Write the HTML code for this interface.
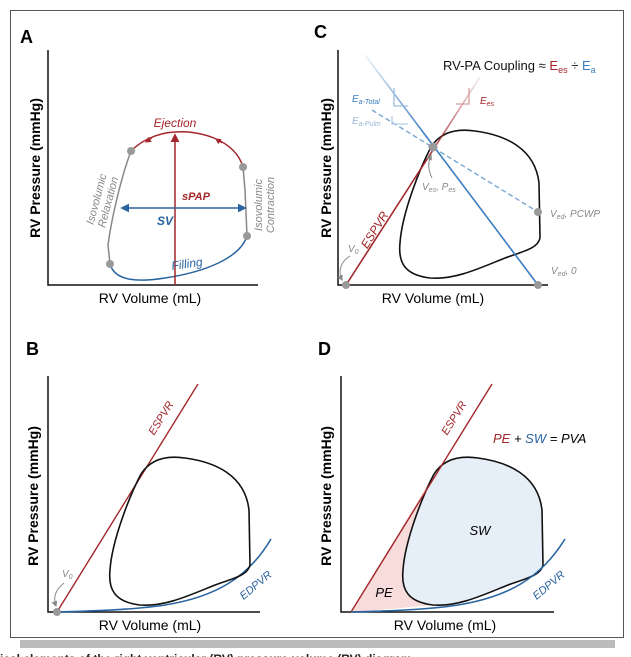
<!DOCTYPE html>
<html><head><meta charset="utf-8"><style>
body{margin:0;background:#fff;width:631px;height:657px;overflow:hidden;font-family:"Liberation Sans",sans-serif}
svg{position:absolute;left:0;top:0}
</style></head><body>
<svg width="631" height="657" viewBox="0 0 631 657">
<defs>
<marker id="arB" viewBox="0 0 10 10" refX="8" refY="5" markerWidth="6" markerHeight="6" orient="auto"><path d="M0,0L10,5L0,10z" fill="#2a64a0"/></marker>
<marker id="arR" viewBox="0 0 10 10" refX="8" refY="5" markerWidth="6" markerHeight="6" orient="auto"><path d="M0,0L10,5L0,10z" fill="#a3262a"/></marker>
<marker id="arG" viewBox="0 0 10 10" refX="8" refY="5" markerWidth="6" markerHeight="6" orient="auto"><path d="M0,0L10,5L0,10z" fill="#888"/></marker>
<linearGradient id="fadeR" x1="0" y1="1" x2="1" y2="0"><stop offset="0.6" stop-color="#a3262a"/><stop offset="1" stop-color="#a3262a" stop-opacity="0.1"/></linearGradient>
<linearGradient id="fadeB" x1="0" y1="0" x2="1" y2="1"><stop offset="0" stop-color="#3a7cc0" stop-opacity="0.1"/><stop offset="0.35" stop-color="#3a7cc0"/></linearGradient>
</defs>
<rect x="10.5" y="10.5" width="613" height="627" fill="none" stroke="#555" stroke-width="1"/>
<rect x="20" y="640" width="595" height="8" fill="#bbb"/>
<text x="0" y="663" font-size="12" font-weight="bold" fill="#222">ical elements of the right ventricular (RV) pressure-volume (RV) diagram</text>

<!-- Panel A -->
<g>
<text x="20" y="43" font-size="18" font-weight="bold">A</text>
<path d="M48,50V285H258" fill="none" stroke="#111" stroke-width="1.5"/>
<text x="150" y="303" font-size="14" text-anchor="middle">RV Volume (mL)</text>
<text transform="translate(40,168) rotate(-90)" font-size="14" font-weight="bold" text-anchor="middle">RV  Pressure (mmHg)</text>
<path d="M243,167 C235,140 200,130 175,132 C155,133 140,142 131,151" fill="none" stroke="#a3262a" stroke-width="1.5"/>
<path d="M222,143 l-6,-4" stroke="#a3262a" marker-end="url(#arR)"/>
<path d="M152,138 l-6,4" stroke="#a3262a" marker-end="url(#arR)"/>
<path d="M131,151 C122,175 112,215 108,245 L110,264" fill="none" stroke="#888" stroke-width="1.5"/>
<path d="M247,236 L245,190 L243,167" fill="none" stroke="#888" stroke-width="1.5"/>
<path d="M110,264 C115,282 140,282 165,278 C205,272 240,258 247,236" fill="none" stroke="#2a64a0" stroke-width="1.5"/>
<line x1="175" y1="285" x2="175" y2="135" stroke="#a3262a" stroke-width="1.5" marker-end="url(#arR)"/>
<line x1="175" y1="208" x2="122" y2="208" stroke="#2a64a0" stroke-width="1.5" marker-end="url(#arB)"/>
<line x1="175" y1="208" x2="245" y2="208" stroke="#2a64a0" stroke-width="1.5" marker-end="url(#arB)"/>
<g fill="#999"><circle cx="131" cy="151" r="4"/><circle cx="243" cy="167" r="4"/><circle cx="247" cy="236" r="4"/><circle cx="110" cy="264" r="4"/></g>
<text x="175" y="127" font-size="12" font-style="italic" fill="#a3262a" text-anchor="middle">Ejection</text>
<text x="196" y="200" font-size="11" font-style="italic" font-weight="bold" fill="#a3262a" text-anchor="middle">sPAP</text>
<text x="165" y="225" font-size="12" font-style="italic" font-weight="bold" fill="#2a64a0" text-anchor="middle">SV</text>
<text transform="translate(172,270) rotate(-8)" font-size="12" font-style="italic" fill="#2a64a0">Filling</text>
<text transform="translate(100,200) rotate(-75)" font-size="11" font-style="italic" fill="#888" text-anchor="middle"><tspan x="0" y="0">Isovolumic</tspan><tspan x="0" y="12">Relaxation</tspan></text>
<text transform="translate(262,205) rotate(-90)" font-size="11" font-style="italic" fill="#888" text-anchor="middle"><tspan x="0" y="0">Isovolumic</tspan><tspan x="0" y="12">Contraction</tspan></text>
</g>

<!-- Panel C -->
<g>
<text x="314" y="38" font-size="18" font-weight="bold">C</text>
<path d="M338,50V285H548" fill="none" stroke="#111" stroke-width="1.5"/>
<text x="433" y="303" font-size="14" text-anchor="middle">RV Volume (mL)</text>
<text transform="translate(331,168) rotate(-90)" font-size="14" font-weight="bold" text-anchor="middle">RV  Pressure (mmHg)</text>
<path d="M431,147 C440,133 455,128 475,131 C505,135 535,148 539,183 L540,238 C538,248 525,251 505,258 C480,268 455,280 430,278 C405,275 398,263 400,243 C402,213 420,168 431,147 Z" fill="none" stroke="#111" stroke-width="1.6"/>
<line x1="346" y1="285" x2="480" y2="77" stroke="url(#fadeR)" stroke-width="1.6"/>
<line x1="365" y1="55" x2="538" y2="285" stroke="url(#fadeB)" stroke-width="1.6"/>
<line x1="372" y1="110" x2="538" y2="212" stroke="#5a90c8" stroke-width="1.4" stroke-dasharray="5,3" opacity="0.8"/>
<path d="M394,88V106H408" fill="none" stroke="#9cc0e0" stroke-width="1.3"/>
<path d="M392,116V124H408" fill="none" stroke="#b8d0e8" stroke-width="1.3"/>
<path d="M469,88V104H456" fill="none" stroke="#d8a0a0" stroke-width="1.3"/>
<g fill="#999"><circle cx="346" cy="285" r="4"/><circle cx="433" cy="147" r="4.5"/><circle cx="538" cy="212" r="4"/><circle cx="538" cy="285" r="4"/></g>
<text x="443" y="70" font-size="13" fill="#111">RV-PA Coupling ≈ <tspan fill="#a3262a">E<tspan font-size="9" dy="3">es</tspan></tspan><tspan dy="-3"> ÷ </tspan><tspan fill="#3a7cc0">E<tspan font-size="9" dy="3">a</tspan></tspan></text>
<text x="352" y="102" font-size="10" font-style="italic" fill="#3a7cc0">E<tspan font-size="7" dy="2">a-Total</tspan></text>
<text x="352" y="124" font-size="10" font-style="italic" fill="#9ab8d8">E<tspan font-size="7" dy="2">a-Pulm</tspan></text>
<text x="480" y="104" font-size="10" font-style="italic" fill="#a3262a">E<tspan font-size="7" dy="2">es</tspan></text>
<text x="422" y="190" font-size="10" font-style="italic" fill="#888">V<tspan font-size="7" dy="2">es</tspan><tspan dy="-2">, P</tspan><tspan font-size="7" dy="2">es</tspan></text>
<path d="M432,178 C428,170 428,162 431,155" fill="none" stroke="#888" marker-end="url(#arG)"/>
<text x="550" y="217" font-size="10" font-style="italic" fill="#888">V<tspan font-size="7" dy="2">ed</tspan><tspan dy="-2">, PCWP</tspan></text>
<text x="551" y="274" font-size="10" font-style="italic" fill="#888">V<tspan font-size="7" dy="2">ed</tspan><tspan dy="-2">, 0</tspan></text>
<text x="348" y="252" font-size="10" font-style="italic" fill="#888">V<tspan font-size="7" dy="2">0</tspan></text>
<path d="M350,256 C340,262 338,272 342,280" fill="none" stroke="#888" marker-end="url(#arG)"/>
<text transform="translate(378,232) rotate(-58)" font-size="12" font-style="italic" fill="#a3262a" text-anchor="middle">ESPVR</text>
</g>

<!-- Panel B -->
<g>
<text x="26" y="355" font-size="18" font-weight="bold">B</text>
<path d="M48,376V612H260" fill="none" stroke="#111" stroke-width="1.5"/>
<text x="150" y="630" font-size="14" text-anchor="middle">RV Volume (mL)</text>
<text transform="translate(38,496) rotate(-90)" font-size="14" font-weight="bold" text-anchor="middle">RV  Pressure (mmHg)</text>
<line x1="57" y1="612" x2="198" y2="384" stroke="#a3262a" stroke-width="1.4"/>
<path d="M57,612 C100,611 140,609 165,605 C215,597 248,578 271,539" fill="none" stroke="#2a64a0" stroke-width="1.6"/>
<path d="M141,474 C150,460 165,455 185,458 C215,462 245,475 249,510 L250,565 C248,575 235,578 215,585 C190,595 165,607 140,605 C115,602 108,590 110,570 C112,540 130,495 141,474 Z" fill="none" stroke="#111" stroke-width="1.6"/>
<circle cx="57" cy="612" r="4" fill="#999"/>
<text x="62" y="577" font-size="10" font-style="italic" fill="#888">V<tspan font-size="7" dy="2">0</tspan></text>
<path d="M64,583 C55,590 53,598 56,606" fill="none" stroke="#888" marker-end="url(#arG)"/>
<text transform="translate(164,420) rotate(-58)" font-size="11" font-style="italic" fill="#a3262a" text-anchor="middle">ESPVR</text>
<text transform="translate(258,588) rotate(-40)" font-size="11" font-style="italic" fill="#2a64a0" text-anchor="middle">EDPVR</text>
</g>

<!-- Panel D -->
<g>
<text x="318" y="355" font-size="18" font-weight="bold">D</text>
<path d="M351,612 L434,474 C423,495 405,540 403,570 C401,590 408,602 433,605 C400,608 370,611 351,612 Z" fill="#f8dcdc"/>
<path d="M434,474 C443,460 458,455 478,458 C508,462 538,475 542,510 L543,565 C541,575 528,578 508,585 C483,595 458,607 433,605 C408,602 401,590 403,570 C405,540 423,495 434,474 Z" fill="#e6eef8" stroke="#111" stroke-width="1.6"/>
<path d="M341,376V612H554" fill="none" stroke="#111" stroke-width="1.5"/>
<text x="445" y="630" font-size="14" text-anchor="middle">RV Volume (mL)</text>
<text transform="translate(331,496) rotate(-90)" font-size="14" font-weight="bold" text-anchor="middle">RV  Pressure (mmHg)</text>
<line x1="351" y1="612" x2="492" y2="384" stroke="#a3262a" stroke-width="1.4"/>
<path d="M351,612 C395,611 433,609 458,605 C508,597 541,578 565,539" fill="none" stroke="#2a64a0" stroke-width="1.6"/>
<text transform="translate(457,420) rotate(-58)" font-size="11" font-style="italic" fill="#a3262a" text-anchor="middle">ESPVR</text>
<text transform="translate(551,588) rotate(-40)" font-size="11" font-style="italic" fill="#2a64a0" text-anchor="middle">EDPVR</text>
<text x="493" y="443" font-size="13" font-style="italic"><tspan fill="#a3262a">PE</tspan> + <tspan fill="#2a64a0">SW</tspan> = PVA</text>
<text x="480" y="535" font-size="13" font-style="italic" text-anchor="middle">SW</text>
<text x="384" y="597" font-size="13" font-style="italic" text-anchor="middle">PE</text>
</g>
</svg>
</body></html>
